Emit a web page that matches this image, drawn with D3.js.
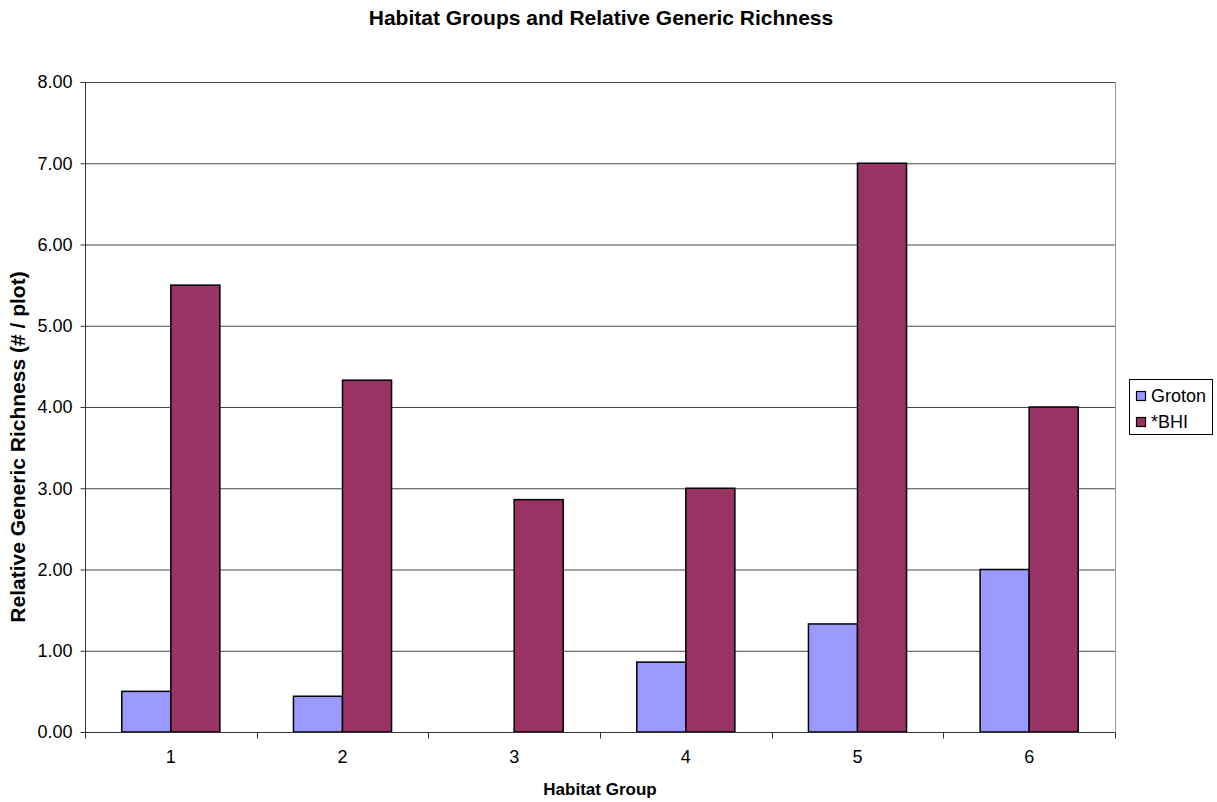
<!DOCTYPE html>
<html>
<head>
<meta charset="utf-8">
<script src="https://cdn.jsdelivr.net/npm/d3@7"></script>
<style>
  body { margin: 0; background: #fff; }
  svg { display: block; font-family: "Liberation Sans", Arial, sans-serif; }
</style>
</head>
<body>
<svg id="chart" width="1217" height="802"></svg>
<script>
// Habitat groups and relative generic richness (# / plot)
const categories = ["1", "2", "3", "4", "5", "6"];
const seriesNames = ["Groton", "*BHI"];
const groton = [0.5, 0.44, 0, 0.86, 1.33, 2.0];
const bhi = [5.5, 4.33, 2.86, 3.0, 7.0, 4.0];
const yTicks = [0, 1, 2, 3, 4, 5, 6, 7, 8];
const colors = ["#9999FF", "#993366"];

const svg = d3.select("#chart");
const m = { left: 85, right: 1115, top: 82, bottom: 732 };

const x = d3.scaleBand().domain(categories).range([m.left, m.right]).paddingInner(0).paddingOuter(0);
const y = d3.scaleLinear().domain([0, 8]).range([m.bottom, m.top]);

const values = [groton, bhi];
const barW = x.bandwidth() / 3.5;

// horizontal gridlines
svg.append("g").selectAll("line").data(yTicks.filter(d => d > 0)).join("line")
  .attr("x1", m.left).attr("x2", m.right)
  .attr("y1", d => y(d) + 0.5).attr("y2", d => y(d) + 0.5)
  .attr("stroke", "#444").attr("stroke-width", 1);

// right border of plot area
svg.append("line")
  .attr("x1", m.right + 0.5).attr("x2", m.right + 0.5)
  .attr("y1", m.top).attr("y2", m.bottom)
  .attr("stroke", "#999").attr("stroke-width", 1);

// bars
seriesNames.forEach((name, si) => {
  svg.append("g").selectAll("rect").data(values[si]).join("rect")
    .attr("x", (d, i) => x(categories[i]) + barW * 0.75 + si * barW)
    .attr("y", d => y(d))
    .attr("width", barW)
    .attr("height", d => y(0) - y(d))
    .attr("fill", colors[si])
    .attr("stroke", "#000")
    .attr("stroke-width", d => d > 0 ? 1.5 : 0);
});

// y axis
const yAxis = d3.axisLeft(y).tickValues(yTicks).tickFormat(d3.format(".2f")).tickSize(5).tickPadding(8);
const gy = svg.append("g").attr("transform", `translate(${m.left + 0.5},0)`).call(yAxis);
gy.select(".domain").attr("stroke", "#333").attr("d", `M-5,${m.top + 0.5}H0V${m.bottom + 0.5}`);
gy.selectAll(".tick line").attr("stroke", "#333");
gy.selectAll(".tick text").attr("font-size", 18).attr("fill", "#000").attr("font-family", "Liberation Sans, Arial, sans-serif");

// x axis
const xAxis = d3.axisBottom(x).tickSize(0).tickPadding(18);
const gx = svg.append("g").attr("transform", `translate(0,${m.bottom + 0.5})`).call(xAxis);
gx.select(".domain").attr("stroke", "#333").attr("d", `M${m.left},0H${m.right + 0.5}`);
gx.selectAll(".tick text").attr("font-size", 18).attr("fill", "#000").attr("font-family", "Liberation Sans, Arial, sans-serif");
// category boundary ticks
const bounds = categories.map(c => x(c)).concat([m.right]);
gx.append("g").selectAll("line").data(bounds).join("line")
  .attr("x1", d => Math.round(d) + 0.5).attr("x2", d => Math.round(d) + 0.5)
  .attr("y1", 0).attr("y2", 6)
  .attr("stroke", "#333");

// titles
svg.append("text")
  .attr("x", 601).attr("y", 25)
  .attr("text-anchor", "middle")
  .attr("font-size", 21).attr("font-weight", "bold")
  .text("Habitat Groups and Relative Generic Richness");

svg.append("text")
  .attr("x", (m.left + m.right) / 2).attr("y", 795)
  .attr("text-anchor", "middle")
  .attr("font-size", 17).attr("font-weight", "bold")
  .text("Habitat Group");

svg.append("text")
  .attr("transform", `translate(25,447) rotate(-90)`)
  .attr("text-anchor", "middle")
  .attr("font-size", 21).attr("font-weight", "bold")
  .text("Relative Generic Richness (# / plot)");

// legend
const lg = svg.append("g");
lg.append("rect")
  .attr("x", 1129.5).attr("y", 379.5).attr("width", 83).attr("height", 55)
  .attr("fill", "#fff").attr("stroke", "#000").attr("stroke-width", 1);
seriesNames.forEach((name, i) => {
  const yy = 391 + i * 26;
  lg.append("rect")
    .attr("x", 1136.5).attr("y", yy + 0.5).attr("width", 9).attr("height", 9)
    .attr("fill", colors[i]).attr("stroke", "#000").attr("stroke-width", 1.2);
  lg.append("text")
    .attr("x", 1151).attr("y", yy + 11)
    .attr("font-size", 18)
    .text(name);
});
</script>
</body>
</html>
